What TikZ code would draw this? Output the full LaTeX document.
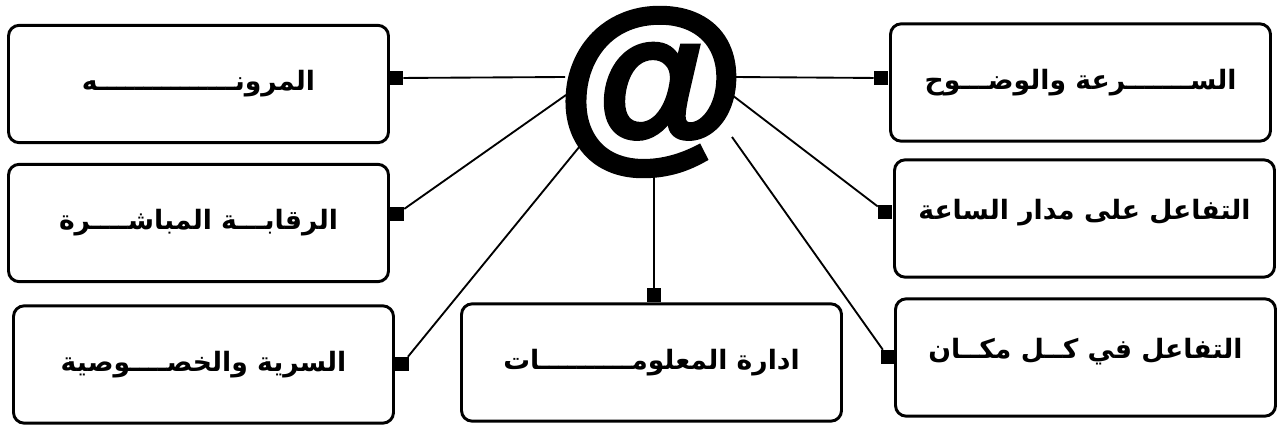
\documentclass[tikz,border=0pt]{standalone}
\usepackage{fontspec}
\newfontfamily\arabicfont[Script=Arabic]{DejaVu Sans}
\newfontfamily\atfont[FakeBold=3]{Liberation Sans Bold}
\TeXXeTstate=1
\usetikzlibrary{positioning}
\newcommand{\artext}[1]{\beginR #1\endR}

\begin{document}
\begin{tikzpicture}[
    x=0.75pt, y=-0.75pt,
    box/.style={rectangle, draw, line width=2.2pt, rounded corners=8pt, minimum width=285pt, minimum height=88pt, align=center, font=\arabicfont\bfseries\fontsize{20}{24}\selectfont},
    pin/.style={rectangle, fill=black, inner sep=0pt, minimum size=10.5pt},
    conn/.style={line width=1.4pt}
]
    \useasboundingbox (0,0) rectangle (1278,426);

    % Levy sloupec
    \node[box] (flex) at (198.5, 84) {\artext{المرونـــــــــــــــه}};
    \node[box] (monitor) at (198.5, 223) {\artext{الرقابـــة المباشــــرة}};
    \node[box] (privacy) at (203.5, 364.5) {\artext{السرية والخصــــوصية}};

    % Stred
    \node[font=\atfont\fontsize{144}{144}\selectfont, inner sep=0pt] (email) at (651, 92) {@};
    \node[box] (infoman) at (651.5, 362.5) {\artext{ادارة المعلومــــــــــات}};

    % Pravy sloupec
    \node[box] (speed) at (1080.5, 82.5) {\artext{الســـــــرعة والوضـــوح}};
    \node[box, text depth=14pt] (allday) at (1084.5, 218.5) {\artext{التفاعل على مدار الساعة}};
    \node[box, text depth=14pt] (anywhere) at (1085.5, 357.5) {\artext{التفاعل في كــل مكــان}};

    % === Ctverecky na hranach ===
    \node[pin] (pinflex) at (396, 78) {};
    \node[pin] (pinmonitor) at (397, 214) {};
    \node[pin] (pinprivacy) at (402, 364) {};
    \node[pin] (pininfo) at (654, 295) {};
    \node[pin] (pinspeed) at (881, 78) {};
    \node[pin] (pinallday) at (885, 212) {};
    \node[pin] (pinanywhere) at (888, 357) {};

    % === Body na zavinaci ===
    \coordinate (eflex) at (565, 77);
    \coordinate (emonitor) at (566, 95);
    \coordinate (eprivacy) at (580, 146);
    \coordinate (einfo) at (654, 172);
    \coordinate (espeed) at (734, 77);
    \coordinate (eallday) at (732, 95);
    \coordinate (eanywhere) at (732, 137);

    % === Spojnice ===
    \draw[conn] (eflex) -- (pinflex);
    \draw[conn] (emonitor) -- (pinmonitor);
    \draw[conn] (eprivacy) -- (pinprivacy);
    \draw[conn] (einfo) -- (pininfo);
    \draw[conn] (espeed) -- (pinspeed);
    \draw[conn] (eallday) -- (pinallday);
    \draw[conn] (eanywhere) -- (pinanywhere);

\end{tikzpicture}
\end{document}
